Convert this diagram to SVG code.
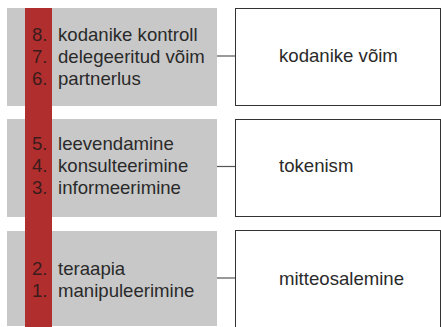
<svg xmlns="http://www.w3.org/2000/svg" width="441" height="327" viewBox="0 0 441 327">
<style>
.band{fill:#c8c8c8}
.bar{fill:#b02e2e}
.box{fill:#fff;stroke:#333;stroke-width:1}
.t{font-family:"Liberation Sans",Arial,sans-serif;font-size:18.6px;fill:#2a2a2a}
.n{font-family:"Liberation Sans",Arial,sans-serif;font-size:18.6px;fill:#3a1c1c}
.c{stroke:#555;stroke-width:1.2;fill:none}
</style>
<rect width="441" height="327" fill="#fff"/>
<g id="band1"><rect class="band" x="7" y="8" width="210" height="98"/></g>
<g id="band2"><rect class="band" x="7" y="119" width="210" height="98"/></g>
<g id="band3"><rect class="band" x="7" y="231" width="210" height="95"/></g>
<rect class="bar" x="25" y="8" width="27" height="319"/>
<g id="levels1">
<text class="n" x="32" y="40.5">8.</text><text class="t" x="58" y="40.5">kodanike kontroll</text>
<text class="n" x="32" y="62.5">7.</text><text class="t" x="58" y="62.5">delegeeritud võim</text>
<text class="n" x="32" y="84.5">6.</text><text class="t" x="58" y="84.5">partnerlus</text>
</g>
<g id="levels2">
<text class="n" x="32" y="149.5">5.</text><text class="t" x="58" y="149.5">leevendamine</text>
<text class="n" x="32" y="171.5">4.</text><text class="t" x="58" y="171.5">konsulteerimine</text>
<text class="n" x="32" y="193.5">3.</text><text class="t" x="58" y="193.5">informeerimine</text>
</g>
<g id="levels3">
<text class="n" x="32" y="274.5">2.</text><text class="t" x="58" y="274.5">teraapia</text>
<text class="n" x="32" y="296.5">1.</text><text class="t" x="58" y="296.5">manipuleerimine</text>
</g>
<g id="connectors">
<line class="c" x1="217" y1="56" x2="235" y2="56"/>
<line class="c" x1="217" y1="166.5" x2="235" y2="166.5"/>
<line class="c" x1="217" y1="278" x2="235" y2="278"/>
</g>
<g id="box1"><rect class="box" x="235.5" y="8.5" width="205" height="97"/><text class="t" x="279" y="62">kodanike võim</text></g>
<g id="box2"><rect class="box" x="235.5" y="119.5" width="205" height="97"/><text class="t" x="279" y="172">tokenism</text></g>
<g id="box3"><rect class="box" x="235.5" y="230.5" width="205" height="110"/><text class="t" x="279" y="285">mitteosalemine</text></g>
</svg>
